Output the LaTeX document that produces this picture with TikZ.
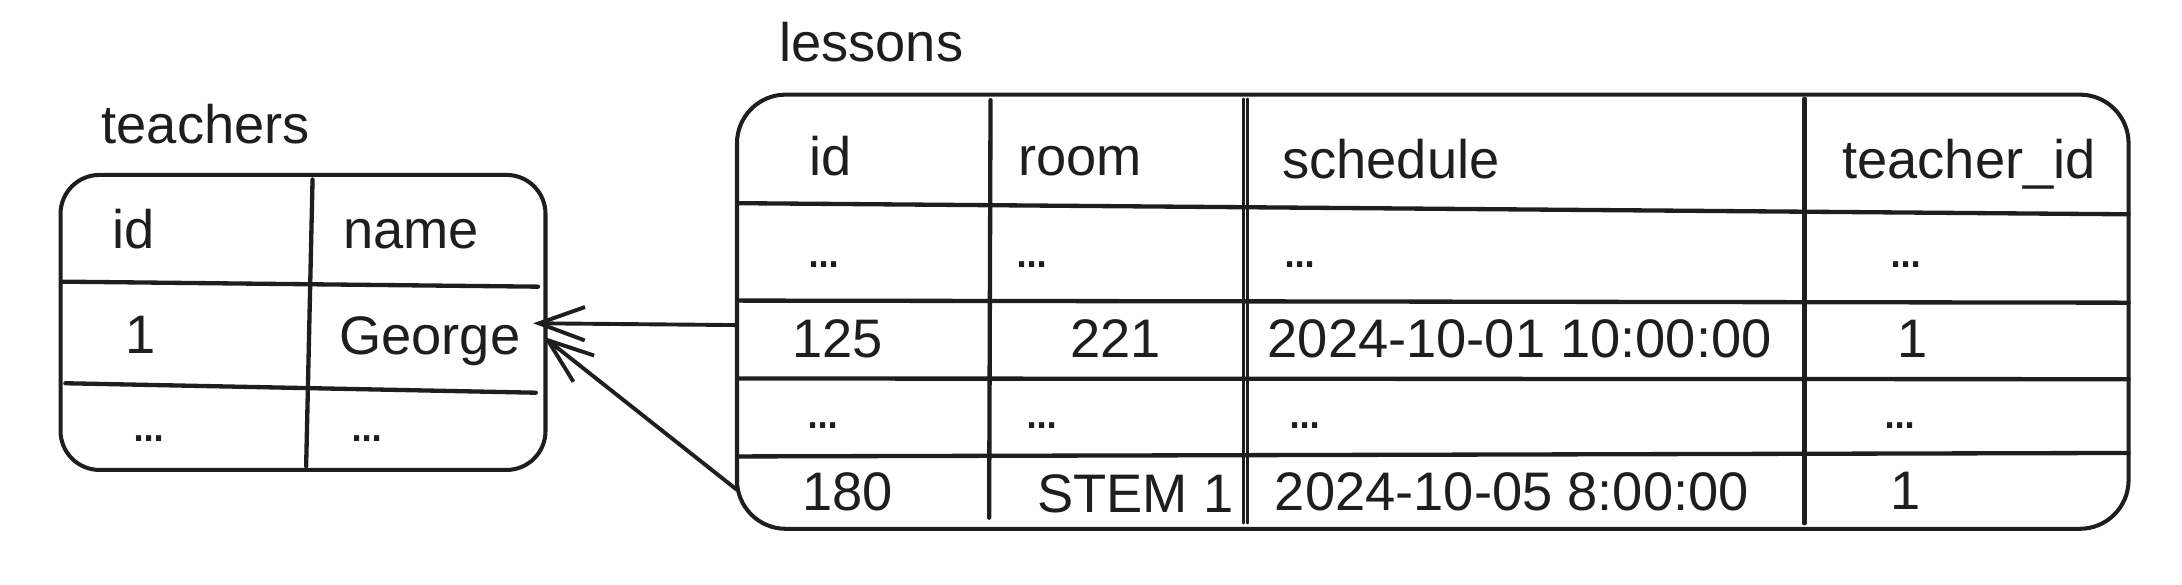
\documentclass[tikz,border=0pt]{standalone}
\usepackage{fontspec}
\setmainfont{Liberation Sans}
\usetikzlibrary{arrows.meta}
\definecolor{ink}{HTML}{1E1E1E}
\newcommand\mydots{.\kern-0.095em.\kern-0.095em.}
\begin{document}
\begin{tikzpicture}[x=1pt,y=-1pt,
  tbl/.style={draw=ink, line width=2.9pt, rectangle, inner sep=0pt, outer sep=0pt},
  gridline/.style={draw=ink, line width=3.1pt, line cap=round},
  thinrule/.style={draw=ink, line width=1.7pt, line cap=round},
  txt/.style={anchor=base west, inner sep=0pt, outer sep=0pt, text=ink, font=\fontsize{39pt}{45pt}\selectfont},
  fk/.style={draw=ink, line width=2.8pt, line cap=round, line join=round, -{Straight Barb[length=33pt,width=24pt]}}
]
\useasboundingbox (0,0) rectangle (1568,420);

% ---------- teachers table ----------
\node[txt] (tTitle) at (73,103) {teachers};
\node[tbl, minimum width=348.5pt, minimum height=212pt, rounded corners=28pt] (teachers) at (217.75,231.7) {};
\draw[gridline] (224.6,129) -- (220,335);
\draw[gridline] (45,202.4) -- (386.6,206);
\draw[gridline] (47,275.4) -- (385,282.2);
\node[txt] (tIdH) at (80.8,178.5) {id};
\node[txt] (tNameH) at (246.6,178.5) {name};
\node[txt] (tId1) at (90,254) {1};
\node[txt] (tName1) at (243.8,255) {George};
\node[txt] (tIdD) at (94.7,317) {\mydots};
\node[txt] (tNameD) at (251.5,317) {\mydots};

% ---------- lessons table ----------
\node[txt] (lTitle) at (560,44) {lessons};
\node[tbl, minimum width=1000pt, minimum height=312pt, rounded corners=35pt] (lessons) at (1029.6,224) {};
\draw[gridline] (711.8,72) -- (710.8,372);
\draw[thinrule] (893.6,71) -- (893.6,376);
\draw[thinrule] (896.4,71) -- (896.4,376);
\draw[gridline] (1296.6,71) -- (1296.6,376);
\draw[gridline] (530,146) -- (1529.6,154);
\draw[gridline] (530,216) -- (1529.6,217.5);
\draw[gridline] (530,272) -- (1529.6,272.5);
\draw[gridline] (530,328) -- (1529.6,325.5);

\node[txt] (lIdH) at (581.8,126) {id};
\node[txt] (lRoomH) at (731.6,126) {room};
\node[txt] (lSchedH) at (921.5,128) {schedule};
\node[txt] (lTeachH) at (1323.9,128) {teacher\_id};

\node[txt] (lIdD1) at (579.6,192.5) {\mydots};
\node[txt] (lRoomD1) at (729,192.5) {\mydots};
\node[txt] (lSchedD1) at (921.5,192.5) {\mydots};
\node[txt] (lTeachD1) at (1357,192.5) {\mydots};

\node[txt] (lId125) at (569.5,257) {125};
\node[txt] (lRoom125) at (769,257) {221};
\node[txt] (lSched125) at (911,257) {2024-10-01 10:00:00};
\node[txt] (lTeach125) at (1363.5,257) {1};

\node[txt] (lIdD2) at (579,308) {\mydots};
\node[txt] (lRoomD2) at (736,308) {\mydots};
\node[txt] (lSchedD2) at (925,308) {\mydots};
\node[txt] (lTeachD2) at (1352.7,308) {\mydots};

\node[txt] (lId180) at (576.6,367) {180};
\node[txt] (lRoom180) at (745.5,368) {STEM 1};
\node[txt] (lSched180) at (916.2,367) {2024-10-05 8:00:00};
\node[txt] (lTeach180) at (1358.5,366) {1};

% ---------- foreign keys ----------
\coordinate (fk1tail) at (529.6,233.6);
\coordinate (fk1head) at (383.2,232.3);
\coordinate (fk2tail) at (529.6,352);
\coordinate (fk2head) at (390.4,241.9);
\draw[fk] (fk1tail) -- (fk1head);
\draw[fk] (fk2tail) -- (fk2head);
\end{tikzpicture}
\end{document}
